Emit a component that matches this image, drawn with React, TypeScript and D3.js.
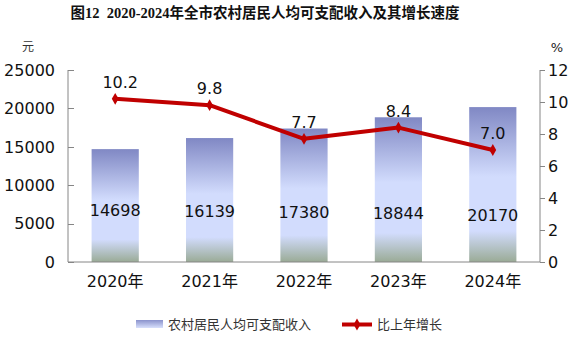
import React from "react";
import * as d3 from "d3";

const years = ["2020年", "2021年", "2022年", "2023年", "2024年"];
const income = [14698, 16139, 17380, 18844, 20170];
const growth = [10.2, 9.8, 7.7, 8.4, 7.0];
const leftTicks = [0, 5000, 10000, 15000, 20000, 25000];
const rightTicks = [0, 2, 4, 6, 8, 10, 12];

const W = 576;
const H = 348;
const M = { left: 68, right: 36, top: 70, bottom: 86 };

const NUM_FONT = "'DejaVu Sans', 'Noto Sans CJK SC', sans-serif";
const CJK_FONT = "'Noto Sans CJK SC', sans-serif";

export default function App() {
  const x = d3
    .scaleBand<string>()
    .domain(years)
    .range([M.left, W - M.right])
    .paddingInner(0.5)
    .paddingOuter(0.25);
  const band = d3.scaleBand<string>().domain(years).range([M.left, W - M.right]);
  const yL = d3.scaleLinear().domain([0, 25000]).range([H - M.bottom, M.top]);
  const yR = d3.scaleLinear().domain([0, 12]).range([H - M.bottom, M.top]);
  const cx = (d: string) => (band(d) as number) + band.bandwidth() / 2;
  const line = d3
    .line<number>()
    .x((_, i) => cx(years[i]))
    .y((d) => yR(d));
  const diamond = d3.symbol().type(d3.symbolDiamond).size(40)();
  const x0 = M.left;
  const x1 = W - M.right;
  const yb = H - M.bottom;
  const axisColor = "#868686";

  return (
    <svg
      width={W}
      height={H}
      style={{ position: "absolute", left: 0, top: 0, background: "#fff" }}
    >
      <defs>
        <linearGradient id="barGrad" x1="0" y1="0" x2="0" y2="1">
          <stop offset="0" stopColor="#8088c4" />
          <stop offset="0.45" stopColor="#d2dcfd" />
          <stop offset="0.8" stopColor="#d2dcfd" />
          <stop offset="1" stopColor="#9aab96" />
        </linearGradient>
        <linearGradient id="legGrad" x1="0" y1="0" x2="0" y2="1">
          <stop offset="0" stopColor="#8a92cc" />
          <stop offset="1" stopColor="#d8e0fc" />
        </linearGradient>
      </defs>

      <text
        x={265}
        y={18}
        textAnchor="middle"
        fontFamily="'Liberation Serif', 'Noto Sans CJK SC', serif"
        fontWeight="bold"
        fontSize={14.5}
        fill="#111"
        style={{ whiteSpace: "pre" }}
      >
        {"图12  2020-2024年全市农村居民人均可支配收入及其增长速度"}
      </text>

      <text x={28} y={51} textAnchor="middle" fontFamily={CJK_FONT} fontSize={12} fill="#333">
        元
      </text>
      <text x={557} y={52} textAnchor="middle" fontFamily={NUM_FONT} fontSize={13} fill="#222">
        %
      </text>

      {/* bars */}
      {income.map((v, i) => (
        <rect
          key={years[i]}
          x={x(years[i])}
          y={yL(v)}
          width={x.bandwidth()}
          height={yb - yL(v)}
          fill="url(#barGrad)"
        />
      ))}

      {/* axes */}
      <line x1={x0} x2={x0} y1={M.top} y2={yb} stroke={axisColor} />
      <line x1={x1} x2={x1} y1={M.top} y2={yb} stroke={axisColor} />
      <line x1={x0} x2={x1} y1={yb} y2={yb} stroke={axisColor} />
      {leftTicks.map((t) => (
        <g key={"l" + t}>
          <line x1={x0} x2={x0 + 6} y1={Math.round(yL(t)) + 0.5} y2={Math.round(yL(t)) + 0.5} stroke={axisColor} />
          <text
            x={x0 - 13}
            y={yL(t)}
            dy="0.36em"
            textAnchor="end"
            fontFamily={NUM_FONT}
            fontSize={16}
            fill="#111"
          >
            {t}
          </text>
        </g>
      ))}
      {rightTicks.map((t) => (
        <g key={"r" + t}>
          <line x1={x1} x2={x1 + 5} y1={Math.round(yR(t)) + 0.5} y2={Math.round(yR(t)) + 0.5} stroke={axisColor} />
          <text
            x={x1 + 8}
            y={yR(t)}
            dy="0.36em"
            textAnchor="start"
            fontFamily={NUM_FONT}
            fontSize={16}
            fill="#111"
          >
            {t}
          </text>
        </g>
      ))}
      {years.map((yr) => (
        <text
          key={"x" + yr}
          x={cx(yr)}
          y={yb + 25}
          textAnchor="middle"
          fontFamily={NUM_FONT}
          fontSize={16}
          fill="#111"
        >
          {yr}
        </text>
      ))}

      {/* bar labels */}
      {income.map((v, i) => (
        <text
          key={"bl" + i}
          x={cx(years[i])}
          y={yb - 52 + i * 1.2}
          dy="0.36em"
          textAnchor="middle"
          fontFamily={NUM_FONT}
          fontSize={16}
          fill="#111"
        >
          {v}
        </text>
      ))}

      {/* line */}
      <path d={line(growth) || ""} fill="none" stroke="#c00000" strokeWidth={4} strokeLinejoin="round" />
      {growth.map((g, i) => (
        <path key={"m" + i} d={diamond || ""} transform={`translate(${cx(years[i])},${yR(g)})`} fill="#c00000" />
      ))}
      {growth.map((g, i) => (
        <text
          key={"gl" + i}
          x={cx(years[i]) + (i === 0 ? 5 : 0)}
          y={yR(g) - 11}
          textAnchor="middle"
          fontFamily={NUM_FONT}
          fontSize={16}
          fill="#111"
        >
          {g.toFixed(1)}
        </text>
      ))}

      {/* legend */}
      <rect x={136} y={320} width={27} height={8} fill="url(#legGrad)" />
      <text x={168} y={329} fontFamily={CJK_FONT} fontSize={13} fill="#333">
        农村居民人均可支配收入
      </text>
      <line x1={342} x2={372} y1={324.5} y2={324.5} stroke="#c00000" strokeWidth={4} />
      <path d={diamond || ""} transform="translate(357,324.5)" fill="#c00000" />
      <text x={377} y={329} fontFamily={CJK_FONT} fontSize={13} fill="#333">
        比上年增长
      </text>
    </svg>
  );
}
